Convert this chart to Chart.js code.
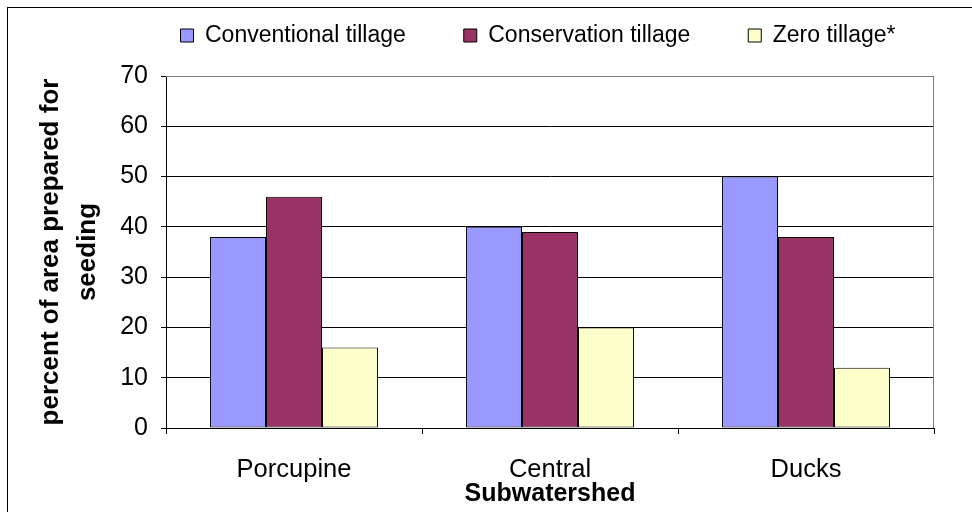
<!DOCTYPE html>
<html>
<head>
<meta charset="utf-8">
<script src="https://cdn.jsdelivr.net/npm/chart.js@4.4.1/dist/chart.umd.min.js"></script>
<style>
  html, body { margin: 0; padding: 0; background: #fff; overflow: hidden; }
  #wrap { position: relative; width: 972px; height: 512px; }
  #frame { position: absolute; left: 7px; top: 7px; width: 1000px; height: 600px; border: 1px solid #000; pointer-events: none; }
  canvas { position: absolute; left: 0; top: 0; }
</style>
</head>
<body>
<div id="wrap">
  <canvas id="chart" width="972" height="512"></canvas>
  <div id="frame"></div>
</div>
<script>
// Tillage practice by subwatershed

const subwatersheds = ['Porcupine', 'Central', 'Ducks'];
const conventional = [38, 40, 50];
const conservation = [46, 39, 38];
const zeroTillage = [16, 20, 12];
const yTicks = [0, 10, 20, 30, 40, 50, 60, 70];

const FONT = '"Liberation Sans", Arial, sans-serif';

// Legend sits higher and a bit right of the default centred spot
const legendFix = {
  id: 'legendFix',
  beforeLayout(chart) {
    const lg = chart.legend;
    if (lg && !lg._fixed) {
      const fit = lg.fit;
      lg.fit = function() { fit.call(this); this.height = 76; };
      lg._fixed = true;
    }
  },
  afterLayout(chart) {
    const lg = chart.legend;
    lg.top -= 34;
    lg.left += 71;
    lg.right += 71;
  }
};

// grey plot border on the right / top
const plotBorder = {
  id: 'plotBorder',
  beforeDatasetsDraw(chart) {
    const { ctx, chartArea: a } = chart;
    ctx.save();
    ctx.strokeStyle = '#808080';
    ctx.lineWidth = 1;
    ctx.beginPath();
    ctx.moveTo(a.left, a.top + 0.5);
    ctx.lineTo(a.right - 0.5, a.top + 0.5);
    ctx.lineTo(a.right - 0.5, a.bottom);
    ctx.stroke();
    ctx.restore();
  }
};

const ctx = document.getElementById('chart').getContext('2d');
new Chart(ctx, {
  type: 'bar',
  data: {
    labels: subwatersheds,
    datasets: [
      { label: 'Conventional tillage', data: conventional, backgroundColor: '#9999FF' },
      { label: 'Conservation tillage', data: conservation, backgroundColor: '#993366' },
      { label: 'Zero tillage*', data: zeroTillage, backgroundColor: '#FFFFCC' }
    ].map(d => Object.assign(d, { borderColor: '#000', borderWidth: 1, borderSkipped: false }))
  },
  options: {
    responsive: false,
    animation: false,
    devicePixelRatio: 1,
    layout: { padding: { left: 0, right: 38, top: 0, bottom: 0 } },
    datasets: { bar: { categoryPercentage: 0.656, barPercentage: 1 } },
    plugins: {
      legend: {
        position: 'top',
        labels: {
          boxWidth: 13,
          boxHeight: 13,
          padding: 58,
          color: '#000',
          font: { family: FONT, size: 23 }
        }
      },
      tooltip: { enabled: false }
    },
    scales: {
      x: {
        afterFit: s => { s.height = 84; },
        border: { color: '#000', width: 1 },
        grid: { offset: true, drawOnChartArea: false, drawTicks: true, tickLength: 6, color: '#000' },
        ticks: { color: '#000', padding: 21, font: { family: FONT, size: 25.5 } },
        title: {
          display: true,
          text: 'Subwatershed',
          color: '#000',
          padding: { top: 0, bottom: 3 },
          font: { family: FONT, size: 25, weight: 'bold' }
        }
      },
      y: {
        min: 0,
        max: 70,
        afterFit: s => { s.width = 166; },
        afterBuildTicks: s => { s.ticks = yTicks.map(v => ({ value: v })); },
        border: { color: '#000', width: 1 },
        grid: { color: '#000', lineWidth: 1, tickLength: 5 },
        ticks: { color: '#000', padding: 13, font: { family: FONT, size: 25 } },
        title: {
          display: true,
          text: ['percent of area prepared for', 'seeding'],
          color: '#000',
          padding: { top: 32, bottom: 0 },
          font: { family: FONT, size: 26, weight: 'bold', lineHeight: '37px' }
        }
      }
    }
  },
  plugins: [legendFix, plotBorder]
});
</script>
</body>
</html>
